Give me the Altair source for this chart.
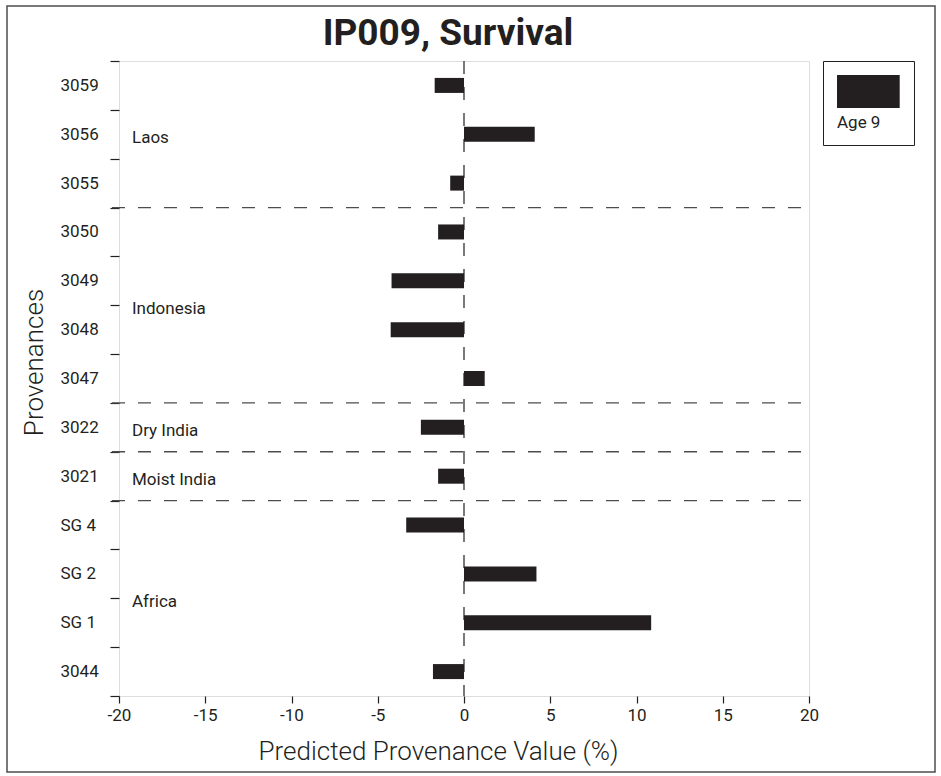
import altair as alt
import pandas as pd

# ---- data ----
chart_title = "IP009, Survival"
provenances = ["3059", "3056", "3055", "3050", "3049", "3048", "3047",
               "3022", "3021", "SG 4", "SG 2", "SG 1", "3044"]
values = [-1.7, 4.1, -0.8, -1.5, -4.2, -4.25, 1.2,
          -2.5, -1.5, -3.35, 4.2, 10.85, -1.8]
regions = ["Laos", "Laos", "Laos",
           "Indonesia", "Indonesia", "Indonesia", "Indonesia",
           "Dry India", "Moist India",
           "Africa", "Africa", "Africa", "Africa"]
series_name = "Age 9"
x_ticks = [-20, -15, -10, -5, 0, 5, 10, 15, 20]
x_domain = [-20, 20]

INK = "#231f20"
FONT = "Roboto"
W, H = 690, 635

df = pd.DataFrame({"prov": provenances, "value": values,
                   "region": regions, "series": series_name})

# region separators: after the last row of each region (except the final one)
last_rows = df[df["region"] != df["region"].shift(-1)]["prov"].tolist()[:-1]
sep_df = pd.DataFrame({"prov": last_rows})

# region labels: centred on each region's span of rows
lab_rows = []
start = 0
for reg in pd.unique(df["region"]):
    n = int((df["region"] == reg).sum())
    mid = start + n / 2.0
    row = int(mid)
    lab_rows.append({"region": reg, "prov": provenances[row], "bp": mid - row})
    start += n
lab_df = pd.DataFrame(lab_rows)

y_scale = alt.Scale(domain=provenances, paddingInner=0, paddingOuter=0)
x_scale = alt.Scale(domain=x_domain, nice=False, zero=False)

bars = alt.Chart(df).mark_bar(size=15).encode(
    x=alt.X("value:Q", scale=x_scale,
            axis=alt.Axis(values=x_ticks, title="Predicted Provenance Value (%)",
                          grid=False, domain=False, tickSize=7, tickWidth=1.2,
                          tickColor=INK, labelPadding=4, labelFontSize=17,
                          labelFont=FONT, labelColor=INK, labelFlush=False,
                          labelExpr="'' + datum.value",
                          titleFont=FONT, titleFontSize=26, titleFontWeight=300,
                          titleColor=INK, titleX=319, titleY=63,
                          titleAlign="center", titleBaseline="alphabetic")),
    x2=alt.X2(datum=0),
    y=alt.Y("prov:N", scale=y_scale, sort=None,
            axis=alt.Axis(title="Provenances", grid=False, domain=False,
                          tickBand="extent", tickSize=9, tickWidth=1.2,
                          tickColor=INK, labelAlign="left", labelPadding=50,
                          labelFontSize=17, labelFont=FONT, labelColor=INK,
                          titleFont=FONT, titleFontSize=26, titleFontWeight=300,
                          titleColor=INK, titleX=-85, titleY=301,
                          titleAlign="center", titleBaseline="middle")),
    color=alt.Color("series:N", scale=alt.Scale(range=[INK]),
                    legend=alt.Legend(orient="none", legendX=704, legendY=0,
                                      title=series_name, titleOrient="bottom",
                                      titleAnchor="start", titleFont=FONT,
                                      titleFontSize=17, titleFontWeight="normal",
                                      titleColor=INK, titlePadding=7,
                                      labelExpr="''", labelOffset=0, labelFontSize=1,
                                      symbolType="M-1,-1H2.8V1H-1Z", symbolSize=1089,
                                      symbolStrokeWidth=0, symbolOpacity=1,
                                      padding=14, strokeColor=INK, fillColor="white")),
)

zero_line = alt.Chart(pd.DataFrame({"v": [0]})).mark_rule(
    color=INK, strokeWidth=1.2, strokeDash=[13, 13]
).encode(x=alt.X("v:Q", scale=x_scale))

separators = alt.Chart(sep_df).mark_rule(
    color="#4d4d4d", strokeWidth=1.3, strokeDash=[13, 13]
).encode(
    y=alt.Y("prov:N", scale=y_scale, sort=None, bandPosition=1),
    x=alt.value(-7), x2=alt.value(W),
)

label_layers = []
for bp in sorted(lab_df["bp"].unique()):
    sub = lab_df[lab_df["bp"] == bp]
    label_layers.append(
        alt.Chart(sub).mark_text(align="left", baseline="middle", font=FONT,
                                 fontSize=17, color=INK, dy=4).encode(
            y=alt.Y("prov:N", scale=y_scale, sort=None, bandPosition=float(bp)),
            x=alt.value(13),
            text="region:N",
        )
    )

frame = alt.Chart(pd.DataFrame({"a": [0]})).mark_rect(
    filled=False, stroke="#4d4d4d", strokeWidth=1.5
).encode(x=alt.value(-112), x2=alt.value(816), y=alt.value(-55), y2=alt.value(711))

title_mark = alt.Chart(pd.DataFrame({"t": [chart_title]})).mark_text(
    font=FONT, fontSize=37, fontWeight="bold", color=INK,
    align="center", baseline="alphabetic"
).encode(text="t:N", x=alt.value(329), y=alt.value(-16))

chart = alt.layer(frame, zero_line, separators, bars, *label_layers,
                  title_mark).properties(
    width=W, height=H,
    autosize=alt.AutoSizeParams(type="none"),
    padding={"left": 119, "top": 61, "right": 132, "bottom": 80},
).configure_view(stroke=INK, strokeWidth=1.5).configure(background="white")

chart.save("out.html", embed_options={"renderer": "svg", "actions": False})
